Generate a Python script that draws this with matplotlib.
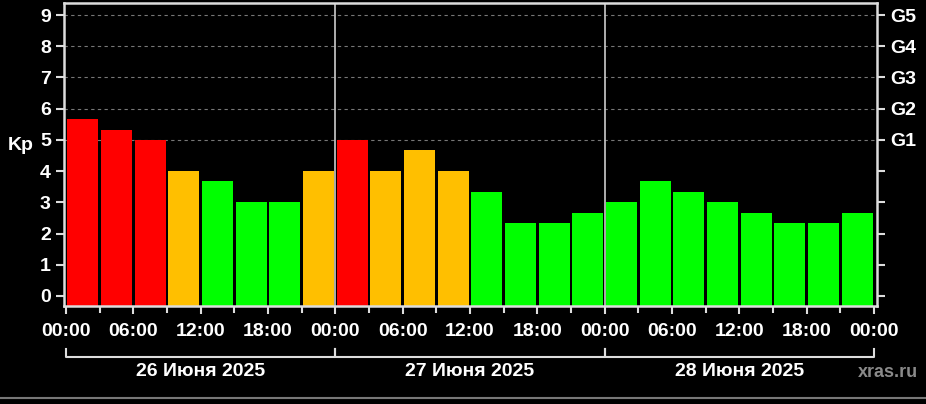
import matplotlib.pyplot as plt
import matplotlib.transforms as mtransforms
import numpy as np

# Kp index, 3-hour intervals, 26-28 June 2025
kp_values = [5.67, 5.33, 5.0, 4.0, 3.67, 3.0, 3.0, 4.0,
             5.0, 4.0, 4.67, 4.0, 3.33, 2.33, 2.33, 2.67,
             3.0, 3.67, 3.33, 3.0, 2.67, 2.33, 2.33, 2.67]
day_labels = ['26 Июня 2025', '27 Июня 2025', '28 Июня 2025']
hour_labels = ['00:00', '06:00', '12:00', '18:00']
g_labels = ['G1', 'G2', 'G3', 'G4', 'G5']

plt.rcParams['font.family'] = ['Liberation Sans', 'DejaVu Sans']
plt.rcParams['font.weight'] = 'bold'

def kp_color(v):
    if v >= 5:
        return '#ff0000'
    if v >= 4:
        return '#ffbf00'
    return '#00ff00'

fig = plt.figure(figsize=(9.26, 4.04), dpi=100, facecolor='black')
ax = fig.add_axes([0.0691, 0.2426, 0.878, 0.7492], facecolor='black')

ymin, ymax = -0.32, 9.375
hours = np.arange(len(kp_values)) * 3 + 1.5
heights = [v - ymin for v in kp_values]
ax.bar(hours, heights, bottom=ymin, width=2.75,
       color=[kp_color(v) for v in kp_values], edgecolor='none', zorder=2)

ax.set_xlim(-0.18, 72.27)
ax.set_ylim(ymin, ymax)

# gridlines for storm levels
for lvl in range(5, 10):
    ax.axhline(lvl, color='#777777', lw=0.8, ls=(0, (3, 3)), zorder=1)
# day separators
for d in (24, 48):
    ax.axvline(d, color='#cccccc', lw=1.2, zorder=3)

spine_col = '#dddddd'
for s in ax.spines.values():
    s.set_color(spine_col)
    s.set_linewidth(1.8)
    s.set_zorder(4)

fs = 14
ax.set_yticks(range(10))
ax.set_yticklabels([str(i) for i in range(10)])
major_x = np.arange(0, 73, 6)
ax.set_xticks(major_x)
ax.set_xticklabels([hour_labels[(h // 6) % 4] for h in major_x])
ax.set_xticks(np.arange(3, 72, 6), minor=True)
ax.tick_params(axis='both', colors=spine_col, labelcolor='white', labelsize=fs,
               length=6, width=1.5)
ax.tick_params(axis='x', which='minor', colors=spine_col, length=5, width=1.5)
ax.tick_params(axis='x', pad=6)

ax2 = ax.twinx()
ax2.set_ylim(ax.get_ylim())
ax2.set_yticks(range(10))
ax2.set_yticklabels([''] * 5 + g_labels)
ax2.tick_params(axis='y', colors=spine_col, labelcolor='white', labelsize=fs,
                length=6, width=1.5)
for s in ax2.spines.values():
    s.set_visible(False)

ax.set_ylabel('Kp', color='white', fontsize=fs, fontweight='bold', rotation=0,
              labelpad=12, va='center')
ax.yaxis.set_label_coords(-0.053, 0.53)

# day brackets under the hour labels
trans = mtransforms.blended_transform_factory(ax.transData, ax.transAxes)
for i, lab in enumerate(day_labels):
    x0, x1 = i * 24, (i + 1) * 24
    ax.plot([x0, x0, x1, x1], [-0.142, -0.168, -0.168, -0.142], color=spine_col,
            lw=1.5, transform=trans, clip_on=False)
    ax.text((x0 + x1) / 2, -0.215, lab, transform=trans, color='white',
            fontsize=fs, fontweight='bold', ha='center', va='center')

fig.text(0.991, 0.079, 'xras.ru', color='#8a8a8a', fontsize=13,
         fontweight='bold', ha='right', va='center')
fig.add_artist(plt.Line2D([0, 1], [0.014, 0.014], color='#777777', lw=1.5,
                          transform=fig.transFigure))

fig.savefig('out.png', dpi=100, facecolor='black')
